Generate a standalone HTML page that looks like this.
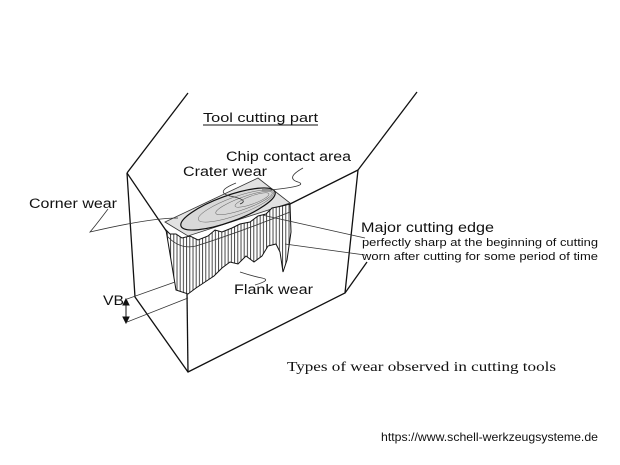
<!DOCTYPE html>
<html><head><meta charset="utf-8"><style>
html,body{margin:0;padding:0;background:#fff}
svg{display:block}
text{font-family:"Liberation Sans",sans-serif;fill:#111}
</style></head><body>
<svg width="620" height="465" viewBox="0 0 620 465" xmlns="http://www.w3.org/2000/svg">
<defs>
<pattern id="hatch" width="3.2" height="10" patternUnits="userSpaceOnUse">
<rect width="3.2" height="10" fill="#fff"/>
<line x1="1" y1="0" x2="1" y2="10" stroke="#333" stroke-width="0.9"/>
</pattern>
</defs>
<g fill="none" stroke="#111" stroke-width="1.3">
<line x1="127" y1="173" x2="188" y2="93"/>
<line x1="417" y1="92" x2="358" y2="170"/>
<polyline points="127,173 135,297 188,372 345,293 358,170"/>
<line x1="127" y1="173" x2="167" y2="232"/>
<line x1="187" y1="293" x2="188" y2="372"/>
<line x1="345" y1="293" x2="367" y2="262"/>
<line x1="358" y1="170" x2="290" y2="204"/>
</g>
<polygon points="165,222 258,178 290,203 188,236" fill="#e2e2e2" stroke="#333" stroke-width="0.8"/>
<path d="M166,230 L170,234 176,234 182,238 190,236 198,240 208,236 215,230 222,232 232,228 240,224 250,222 258,216 266,214 272,208 282,206 290,204 L291,232 287,260 283,272 280,252 276,244 268,246 262,256 254,262 246,256 238,264 230,262 222,268 214,276 205,282 196,288 188,294 176,290 Z" fill="url(#hatch)" stroke="#111" stroke-width="1"/>
<path d="M167,236 Q180,250 196,246 Q240,232 290,212" fill="none" stroke="#333" stroke-width="0.8"/>
<ellipse cx="228" cy="209" rx="50" ry="13" transform="rotate(-20 228 209)" fill="#d8d8d8" stroke="#111" stroke-width="1.2"/>
<g fill="none" stroke="#666" stroke-width="0.5">
<ellipse cx="236" cy="206" rx="40" ry="9" transform="rotate(-20 236 206)"/>
<ellipse cx="244" cy="203" rx="30" ry="6" transform="rotate(-20 244 203)"/>
<ellipse cx="252" cy="200" rx="18" ry="4" transform="rotate(-20 252 200)"/>
</g>
<g fill="none" stroke="#333" stroke-width="0.8">
<path d="M108,209 Q96,225 90,232 Q150,218 178,218"/>
<path d="M236,183 Q214,192 230,196 Q250,200 240,204"/>
<path d="M303,168 Q285,178 298,182 Q310,186 270,190 L262,190"/>
<path d="M262,215 L365,238"/>
<path d="M285,244 L365,255"/>
<path d="M255,285 Q272,280 262,278 Q252,276 240,272"/>
<line x1="127" y1="299" x2="175" y2="282"/>
<line x1="127" y1="322" x2="188" y2="298"/>
</g>
<g stroke="#111" stroke-width="1" fill="#111">
<line x1="126" y1="302" x2="126" y2="320"/>
<polygon points="126,299 123,305 129,305"/>
<polygon points="126,323 123,317 129,317"/>
</g>
<g lengthAdjust="spacingAndGlyphs">
<text x="203" y="122" font-size="13" textLength="115" lengthAdjust="spacingAndGlyphs">Tool cutting part</text>
<line x1="203" y1="125" x2="318" y2="125" stroke="#111" stroke-width="1"/>
<text x="226" y="161" font-size="13.5" textLength="125" lengthAdjust="spacingAndGlyphs">Chip contact area</text>
<text x="183" y="176" font-size="13.5" textLength="84" lengthAdjust="spacingAndGlyphs">Crater wear</text>
<text x="29" y="208" font-size="13.5" textLength="88" lengthAdjust="spacingAndGlyphs">Corner wear</text>
<text x="361" y="232" font-size="13.5" textLength="133" lengthAdjust="spacingAndGlyphs">Major cutting edge</text>
<text x="362" y="246" font-size="11" textLength="236" lengthAdjust="spacingAndGlyphs">perfectly sharp at the beginning of cutting</text>
<text x="362" y="260" font-size="11" textLength="236" lengthAdjust="spacingAndGlyphs">worn after cutting for some period of time</text>
<text x="234" y="294" font-size="13.5" textLength="79" lengthAdjust="spacingAndGlyphs">Flank wear</text>
<text x="103" y="305" font-size="13.5" textLength="21" lengthAdjust="spacingAndGlyphs">VB</text>
<text x="287" y="371" font-size="14" textLength="269" lengthAdjust="spacingAndGlyphs" style="font-family:'Liberation Serif',serif">Types of wear observed in cutting tools</text>
<text x="381" y="441" font-size="12" textLength="217" lengthAdjust="spacingAndGlyphs">https://www.schell-werkzeugsysteme.de</text>
</g>
</svg>
</body></html>
